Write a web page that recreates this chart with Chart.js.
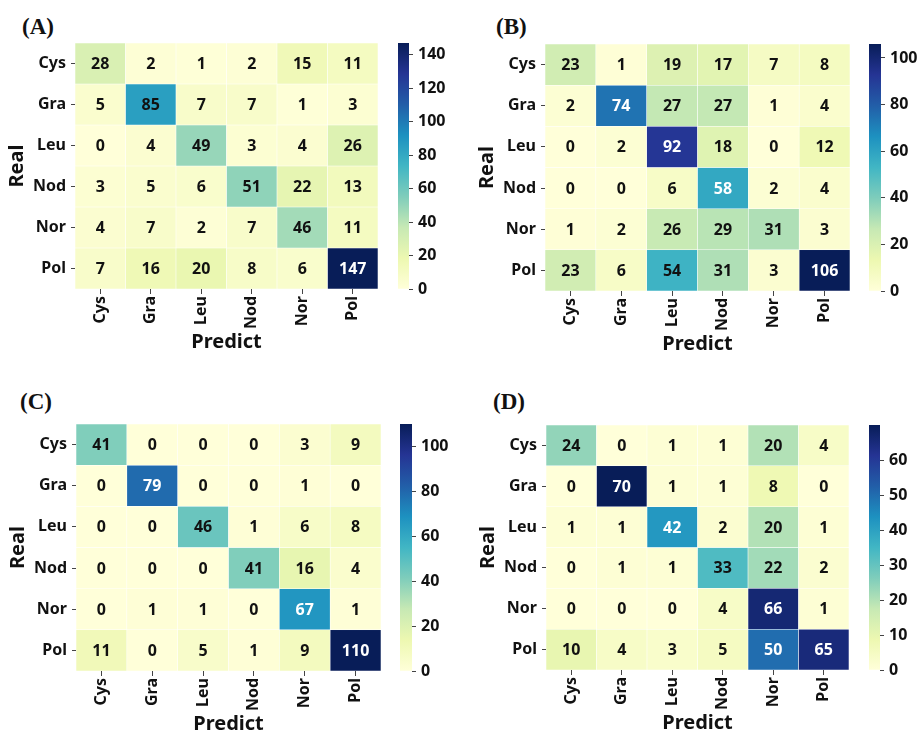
<!DOCTYPE html>
<html>
<head>
<meta charset="utf-8">
<script src="https://cdn.jsdelivr.net/npm/chart.js@4.4.1/dist/chart.umd.min.js"></script>
<style>
  body { margin: 0; background: #fff; width: 919px; height: 734px; overflow: hidden; position: relative; }
  canvas { position: absolute; }
  .tag { position: absolute; font-family: 'Liberation Serif', serif; font-weight: bold; font-size: 23px; line-height: 1; color: #111; }
</style>
</head>
<body>
<div class="tag" style="left:22px; top:15px;">(A)</div>
<div class="tag" style="left:496px; top:15px;">(B)</div>
<div class="tag" style="left:20px; top:390px;">(C)</div>
<div class="tag" style="left:493px; top:390px;">(D)</div>
<canvas id="heatA"></canvas><canvas id="barA"></canvas>
<canvas id="heatB"></canvas><canvas id="barB"></canvas>
<canvas id="heatC"></canvas><canvas id="barC"></canvas>
<canvas id="heatD"></canvas><canvas id="barD"></canvas>
<script>
// class names (same for rows = Real and columns = Predict)
const classes = ['Cys', 'Gra', 'Leu', 'Nod', 'Nor', 'Pol'];

// confusion matrices, rows = real, columns = predicted
const matrixA = [
    [28, 2, 1, 2, 15, 11],
    [5, 85, 7, 7, 1, 3],
    [0, 4, 49, 3, 4, 26],
    [3, 5, 6, 51, 22, 13],
    [4, 7, 2, 7, 46, 11],
    [7, 16, 20, 8, 6, 147]
];
const matrixB = [
    [23, 1, 19, 17, 7, 8],
    [2, 74, 27, 27, 1, 4],
    [0, 2, 92, 18, 0, 12],
    [0, 0, 6, 58, 2, 4],
    [1, 2, 26, 29, 31, 3],
    [23, 6, 54, 31, 3, 106]
];
const matrixC = [
    [41, 0, 0, 0, 3, 9],
    [0, 79, 0, 0, 1, 0],
    [0, 0, 46, 1, 6, 8],
    [0, 0, 0, 41, 16, 4],
    [0, 1, 1, 0, 67, 1],
    [11, 0, 5, 1, 9, 110]
];
const matrixD = [
    [24, 0, 1, 1, 20, 4],
    [0, 70, 1, 1, 8, 0],
    [1, 1, 42, 2, 20, 1],
    [0, 1, 1, 33, 22, 2],
    [0, 0, 0, 4, 66, 1],
    [10, 4, 3, 5, 50, 65]
];

// colour bar tick steps
const colorbarSteps = [20, 20, 20, 10];

// YlGnBu stops
const ylgnbuHex = ['#ffffd9', '#edf8b1', '#c7e9b4', '#7fcdbb', '#41b6c4', '#1d91c0', '#225ea8', '#253494', '#081d58'];

function hexToRgb(h) {
    return [parseInt(h.substr(1, 2), 16), parseInt(h.substr(3, 2), 16), parseInt(h.substr(5, 2), 16)];
}
function ylgnbu(t) {
    t = Math.max(0, Math.min(1, t));
    let pos = t * (ylgnbuHex.length - 1);
    let i = Math.min(Math.floor(pos), ylgnbuHex.length - 2);
    let f = pos - i;
    let a = hexToRgb(ylgnbuHex[i]), b = hexToRgb(ylgnbuHex[i + 1]);
    let c = a.map((v, k) => Math.round(v + (b[k] - v) * f));
    return 'rgb(' + c.join(',') + ')';
}

const tickFont = { family: 'Noto Sans', size: 16, weight: 'bold' };
const titleFont = { family: 'Noto Sans', size: 20, weight: 'bold' };
const ink = '#111';

// writes the count in the middle of every cell
const cellText = {
    id: 'cellText',
    afterDatasetsDraw(chart, args, opts) {
        const ctx = chart.ctx;
        ctx.save();
        ctx.font = 'bold 16px "Noto Sans"';
        ctx.textAlign = 'center';
        ctx.textBaseline = 'middle';
        chart.data.datasets.forEach((ds, r) => {
            chart.getDatasetMeta(r).data.forEach((bar, j) => {
                const v = opts.matrix[r][j];
                const p = bar.getCenterPoint();
                ctx.fillStyle = v >= opts.whiteFrom ? '#ffffff' : ink;
                ctx.fillText(String(v), p.x, p.y + 1);
            });
        });
        ctx.restore();
    }
};

function place(id, left, top, w, h) {
    const el = document.getElementById(id);
    el.width = w; el.height = h;
    el.style.left = left + 'px'; el.style.top = top + 'px';
    return el;
}

function heatChart(id, matrix, whiteFrom, box) {
    const yAxisW = 75, xAxisH = 70, padTop = 10, padRight = 4;
    const el = place(id, box.x - yAxisW, box.y - padTop, yAxisW + box.w + padRight, padTop + box.h + xAxisH);
    const vmax = Math.max(...matrix.flat());
    const datasets = matrix.map((row, r) => ({
        data: row.map(() => [r, r + 1]),
        backgroundColor: row.map(v => ylgnbu(v / vmax)),
        borderColor: 'rgba(255,255,255,0.35)',
        borderWidth: 0.6,
        borderSkipped: false,
        barPercentage: 1,
        categoryPercentage: 1,
        grouped: false
    }));
    new Chart(el, {
        type: 'bar',
        data: { labels: classes, datasets: datasets },
        plugins: [cellText],
        options: {
            responsive: false,
            animation: false,
            layout: { padding: { top: padTop, right: padRight, left: 0, bottom: 0 } },
            plugins: {
                legend: { display: false },
                tooltip: { enabled: false },
                cellText: { matrix: matrix, whiteFrom: whiteFrom }
            },
            scales: {
                x: {
                    offset: true,
                    grid: { offset: false, drawOnChartArea: false, tickLength: 5, color: '#444' },
                    border: { display: false },
                    ticks: { minRotation: 90, maxRotation: 90, font: tickFont, color: ink, padding: 2 },
                    title: { display: true, text: 'Predict', font: titleFont, color: ink, padding: { top: 0, bottom: 5 } },
                    afterFit: s => { s.height = xAxisH; s.paddingLeft = 0; s.paddingRight = 0; }
                },
                y: {
                    min: 0,
                    max: 6,
                    reverse: true,
                    afterBuildTicks: s => { s.ticks = classes.map((c, i) => ({ value: i + 0.5 })); },
                    ticks: { callback: v => classes[Math.floor(v)], font: tickFont, color: ink, padding: 5 },
                    grid: { drawOnChartArea: false, tickLength: 4, color: '#444' },
                    border: { display: false },
                    title: { display: true, text: 'Real', font: titleFont, color: ink, padding: { top: 5, bottom: 0 } },
                    afterFit: s => { s.width = yAxisW; s.paddingTop = 0; s.paddingBottom = 0; }
                }
            }
        }
    });
}

function colorbar(id, vmax, step, box) {
    const axisW = 50, pad = 10;
    const el = place(id, box.x, box.y - pad, box.w + axisW, box.h + 2 * pad);
    new Chart(el, {
        type: 'bar',
        data: {
            labels: [''],
            datasets: [{
                data: [[0, vmax]],
                backgroundColor: ctx => {
                    const y = ctx.chart.scales.y;
                    if (!y) return ylgnbuHex[0];
                    const p0 = y.getPixelForValue(0), p1 = y.getPixelForValue(vmax);
                    if (!isFinite(p0) || !isFinite(p1)) return ylgnbuHex[0];
                    const g = ctx.chart.ctx.createLinearGradient(0, p0, 0, p1);
                    ylgnbuHex.forEach((h, i) => g.addColorStop(i / (ylgnbuHex.length - 1), h));
                    return g;
                },
                borderWidth: 0,
                barPercentage: 1,
                categoryPercentage: 1
            }]
        },
        options: {
            responsive: false,
            animation: false,
            layout: { padding: { top: pad, bottom: pad, left: 0, right: 0 } },
            plugins: { legend: { display: false }, tooltip: { enabled: false } },
            scales: {
                x: { display: false },
                y: {
                    position: 'right',
                    min: 0,
                    max: vmax,
                    ticks: { stepSize: step, includeBounds: false, font: tickFont, color: ink, padding: 5 },
                    // the top end of the bar carries no label
                    afterBuildTicks: s => { s.ticks = s.ticks.filter(t => t.value < vmax); },
                    grid: { drawOnChartArea: false, tickLength: 4, color: '#444' },
                    border: { display: false },
                    afterFit: s => { s.width = axisW; s.paddingTop = 0; s.paddingBottom = 0; }
                }
            }
        }
    });
}

const matrices = [matrixA, matrixB, matrixC, matrixD];
const whiteFrom = [100, 55, 60, 40];
const heatBoxes = [
    { x: 75, y: 43, w: 303, h: 246 },
    { x: 545, y: 44, w: 305, h: 247 },
    { x: 76, y: 424, w: 305, h: 247 },
    { x: 546, y: 425, w: 303, h: 245 }
];
const barBoxes = [
    { x: 398, y: 43, w: 11, h: 246 },
    { x: 869, y: 44, w: 12, h: 247 },
    { x: 400, y: 424, w: 12, h: 247 },
    { x: 869, y: 425, w: 11, h: 245 }
];
['A', 'B', 'C', 'D'].forEach((k, i) => {
    heatChart('heat' + k, matrices[i], whiteFrom[i], heatBoxes[i]);
    colorbar('bar' + k, Math.max(...matrices[i].flat()), colorbarSteps[i], barBoxes[i]);
});
</script>
</body>
</html>
